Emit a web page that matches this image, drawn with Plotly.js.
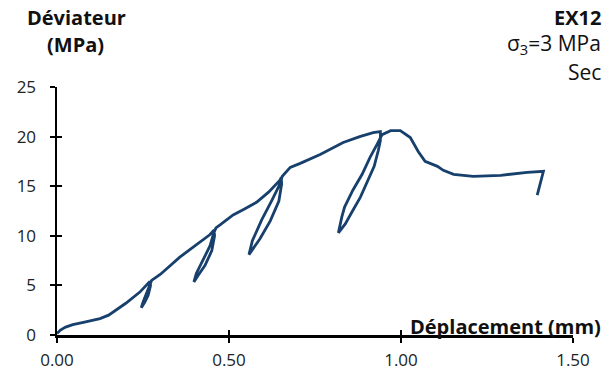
<!DOCTYPE html>
<html>
<head>
<meta charset="utf-8">
<script src="https://cdn.plot.ly/plotly-3.0.1.min.js"></script>
<style>html,body{margin:0;padding:0;background:#fff;}#chart{width:612px;height:374px;}</style>
</head>
<body>
<div id="chart"></div>
<script>
// Displacement (mm)
const deplacement = [
  0.000, 0.010, 0.025, 0.046, 0.080, 0.125, 0.150, 0.200, 0.240, 0.270,
  0.272, 0.265, 0.255, 0.245,
  0.250, 0.260, 0.268, 0.275, 0.300, 0.330, 0.357, 0.390, 0.415, 0.444, 0.457,
  0.458, 0.450, 0.430, 0.410, 0.398,
  0.405, 0.425, 0.445, 0.455, 0.462, 0.474, 0.512, 0.545, 0.581, 0.615, 0.648, 0.652,
  0.653, 0.645, 0.620, 0.590, 0.558,
  0.568, 0.595, 0.625, 0.645, 0.655, 0.678, 0.707, 0.765, 0.832, 0.880, 0.919, 0.940,
  0.940, 0.934, 0.922, 0.905, 0.882, 0.859, 0.838, 0.818,
  0.822, 0.828, 0.836, 0.860, 0.887, 0.910, 0.930, 0.945, 0.970, 0.998, 1.027, 1.050,
  1.070, 1.090, 1.106, 1.123, 1.153, 1.210, 1.290, 1.367, 1.414, 1.396
];
// Deviator stress (MPa)
const deviateur = [
  0.15, 0.50, 0.80, 1.05, 1.30, 1.65, 2.00, 3.20, 4.30, 5.40,
  5.00, 4.00, 3.30, 2.75,
  3.30, 4.20, 5.00, 5.50, 6.10, 7.00, 7.85, 8.70, 9.35, 10.10, 10.60,
  10.00, 8.50, 7.00, 6.00, 5.35,
  6.20, 7.60, 9.00, 10.20, 10.80, 11.10, 12.10, 12.70, 13.40, 14.40, 15.60, 15.90,
  15.20, 13.50, 11.50, 9.70, 8.10,
  9.50, 11.60, 13.60, 15.00, 16.00, 16.90, 17.30, 18.20, 19.40, 20.00, 20.40, 20.50,
  19.60, 18.60, 17.00, 15.60, 13.90, 12.50, 11.20, 10.30,
  11.00, 11.90, 12.90, 14.60, 16.20, 17.90, 19.20, 20.20, 20.60, 20.60, 19.90, 18.50,
  17.50, 17.20, 17.00, 16.60, 16.20, 16.00, 16.10, 16.40, 16.50, 14.10
];
const xTicks = [0, 0.5, 1.0, 1.5];
const xTickText = ["0.00", "0.50", "1.00", "1.50"];
const yTicks = [0, 5, 10, 15, 20, 25];

const FONT = "'Open Sans', sans-serif";
const trace = {
  x: deplacement, y: deviateur, type: 'scatter', mode: 'lines',
  line: {color: '#17406D', width: 2.8}, hoverinfo: 'skip'
};
const dummy = {x: [0], y: [0], xaxis: 'x2', yaxis: 'y2', mode: 'markers',
  marker: {opacity: 0}, hoverinfo: 'skip', showlegend: false};

const annFont = {family: FONT, size: 21, color: '#111'};
const boldFont = {family: FONT, size: 20, color: '#111'};
const layout = {
  width: 612, height: 374,
  margin: {l: 57, r: 39, t: 87, b: 39},
  paper_bgcolor: '#fff', plot_bgcolor: '#fff',
  showlegend: false,
  font: {family: FONT, size: 17, color: '#222'},
  xaxis: {
    range: [0, 1.5], tickvals: xTicks, ticktext: xTickText,
    showgrid: false, zeroline: false, showline: true, linecolor: '#000', linewidth: 2.5,
    ticks: 'outside', ticklen: 5, tickwidth: 2, tickcolor: '#000', ticklabelstandoff: 3,
    tickfont: {family: FONT, size: 17, color: '#222'}, fixedrange: true
  },
  yaxis: {
    range: [0, 25], tickvals: yTicks,
    showgrid: false, zeroline: false, showline: true, linecolor: '#000', linewidth: 2.5,
    ticks: 'outside', ticklen: 5, tickwidth: 2, tickcolor: '#000', ticklabelstandoff: 10,
    tickfont: {family: FONT, size: 17, color: '#222'}, fixedrange: true
  },
  xaxis2: {overlaying: 'x', range: [0, 1.5], tickvals: xTicks, showticklabels: false,
    showgrid: false, zeroline: false, showline: false, ticks: 'inside', ticklen: 5,
    tickwidth: 2, tickcolor: '#000', anchor: 'y2', fixedrange: true},
  yaxis2: {overlaying: 'y', range: [0, 25], tickvals: yTicks, showticklabels: false,
    showgrid: false, zeroline: false, showline: false, ticks: 'inside', ticklen: 5,
    tickwidth: 2, tickcolor: '#000', anchor: 'x2', fixedrange: true},
  annotations: [
    {text: '<b>Déviateur</b>', xref: 'paper', yref: 'paper', x: 0.037, y: 1.281,
     xanchor: 'center', yanchor: 'middle', showarrow: false, font: boldFont},
    {text: '<b>(MPa)</b>', xref: 'paper', yref: 'paper', x: 0.035, y: 1.172,
     xanchor: 'center', yanchor: 'middle', showarrow: false, font: boldFont},
    {text: '<b>EX12</b>', xref: 'paper', yref: 'paper', x: 1.058, y: 1.281,
     xanchor: 'right', yanchor: 'middle', showarrow: false, font: boldFont},
    {text: 'σ<sub>3</sub>=3 MPa', xref: 'paper', yref: 'paper', x: 1.058, y: 1.172,
     xanchor: 'right', yanchor: 'middle', showarrow: false, font: annFont},
    {text: 'Sec', xref: 'paper', yref: 'paper', x: 1.058, y: 1.059,
     xanchor: 'right', yanchor: 'middle', showarrow: false, font: annFont},
    {text: '<b>Déplacement (mm)</b>', xref: 'paper', yref: 'paper', x: 1.058, y: 0.036,
     xanchor: 'right', yanchor: 'middle', showarrow: false, font: boldFont}
  ]
};
Plotly.newPlot('chart', [trace, dummy], layout, {displayModeBar: false, staticPlot: true});
</script>
</body>
</html>
